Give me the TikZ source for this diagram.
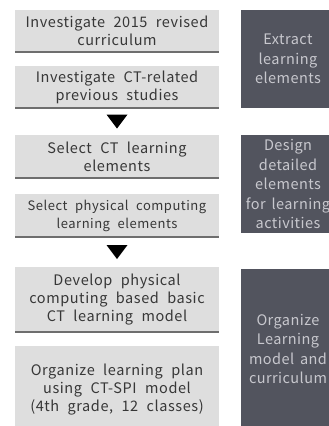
\documentclass[tikz,border=0pt]{standalone}
\usepackage{fontspec}
\setmainfont{Noto Sans CJK KR}
\newfontfamily\stepfont[WordSpace=2.2, LetterSpace=4]{Noto Sans CJK KR}
\newfontfamily\phasefont[WordSpace=1.6, LetterSpace=3]{Noto Sans CJK KR}
\usetikzlibrary{calc}

\definecolor{boxgray}{RGB}{222,222,222}
\definecolor{edgegray}{RGB}{110,110,110}
\definecolor{phaseslate}{RGB}{82,84,94}
\definecolor{phasetext}{RGB}{200,200,206}
\definecolor{steptext}{RGB}{55,55,55}

\begin{document}
\begin{tikzpicture}[x=1pt, y=-1pt]

    \tikzset{stepbox/.style={%
      rectangle,%
      fill=boxgray,%
      text=steptext,%
      font=\stepfont\fontsize{14.5}{18}\selectfont,%
      align=center,%
      inner sep=0pt,%
      minimum width=204pt,%
      path picture={\draw [edgegray, line width=3pt]
        (path picture bounding box.south west) -- (path picture bounding box.south east);}}%
    };

    \tikzset{phasebox/.style={%
      rectangle,%
      fill=phaseslate,%
      text=phasetext,%
      font=\phasefont\fontsize{14.5}{19.5}\selectfont,%
      align=center,%
      inner sep=0pt,%
      minimum width=94pt}%
    };

    \tikzset{flowmark/.style={fill=black}};

    \clip (0,0) rectangle (329,426);

    %%%%%%%%%%%%%%%%%%
    % research steps %
    %%%%%%%%%%%%%%%%%%
    \path (117, 31) node [stepbox, minimum height=42pt] (curr)
      {Investigate 2015 revised\\curriculum};

    \path (117, 87) node [stepbox, minimum height=42pt] (prev)
      {Investigate CT-related\\previous studies};

    \path (117, 156.5) node [stepbox, minimum height=43pt] (selct)
      {Select CT learning\\elements};

    \path (117, 215.5) node [stepbox, minimum height=43pt, font=\stepfont\fontsize{13}{18}\selectfont] (selpc)
      {Select physical computing\\learning elements};

    \path (117, 299.5) node [stepbox, minimum height=65pt] (model)
      {Develop physical\\computing based basic\\CT learning model};

    \path (117, 390) node [stepbox, minimum height=88pt] (plan)
      {Organize learning plan\\using CT-SPI model\\(4th grade, 12 classes)};

    %%%%%%%%%%
    % phases %
    %%%%%%%%%%
    \path (288, 59) node [phasebox, minimum height=98pt] (extract)
      {Extract\\learning\\elements};

    \path (288, 184) node [phasebox, minimum height=98pt] (design)
      {Design\\detailed\\elements\\for learning\\activities};

    \path (288, 349) node [phasebox, minimum height=160pt] (organize)
      {Organize\\Learning\\model and\\curriculum};

    % flow marks between the groups
    \coordinate (markA) at ($(prev.south)!0.5!(selct.north)$);
    \coordinate (markB) at ($(selpc.south)!0.5!(model.north)$);
    \foreach \m in {markA, markB}
      \fill [flowmark] (\m) ++(-10.5,-7) -- ++(21,0) -- ++(-10.5,14) -- cycle;

  \end{tikzpicture}
\end{document}
